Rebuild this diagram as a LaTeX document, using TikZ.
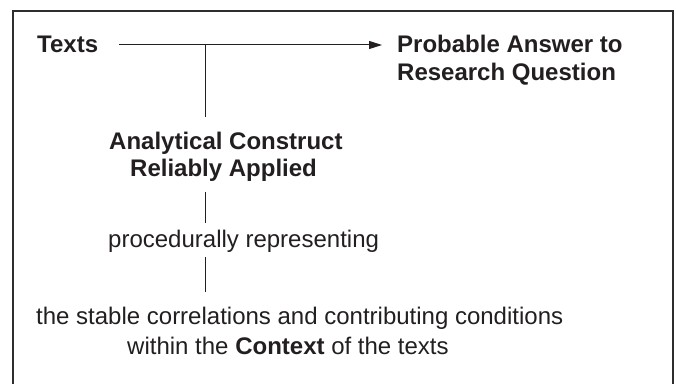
\documentclass[tikz,border=0pt]{standalone}
\usepackage{fontspec}
\setmainfont{Liberation Sans}
\usetikzlibrary{arrows.meta}
\definecolor{ink}{HTML}{231F20}
\definecolor{framec}{HTML}{2E2E2E}
\tikzset{
  lbl/.style={inner sep=0pt, anchor=base west, text=ink, font=\fontsize{24}{28}\selectfont},
  blbl/.style={lbl, font=\fontsize{24}{28}\selectfont\bfseries},
  conn/.style={draw=ink, line width=1pt},
}
\begin{document}
\begin{tikzpicture}[x=1pt,y=1pt]
\useasboundingbox (0,0) rectangle (676,383);
\clip (0,0) rectangle (676,383);
\fill[white] (0,0) rectangle (676,383);
\draw[line width=2.5pt, framec] (13,-10) -- (13,372) -- (673,372) -- (673,-10);

\node[blbl] (texts) at (37,330) {Texts};
\node[blbl] (prob1) at (397,330) {Probable Answer to};
\node[blbl] (prob2) at (397,302) {Research Question};
\node[blbl] (ana1) at (109,233) {Analytical Construct};
\node[blbl] (ana2) at (130,206) {Reliably Applied};
\node[lbl] (proc) at (108,136) {procedurally representing};
\node[lbl] (ctx1) at (36,59) {the stable correlations and contributing conditions};
\node[lbl] (ctx2) at (127,29) {within the \textbf{Context} of the texts};

\coordinate (j) at (205,338);
\coordinate (a0) at (119,338);
\coordinate (a1) at (382,338);
\draw[conn, -{Triangle[length=13pt,width=8pt]}] (a0) -- (a1);
\draw[conn, shorten >=15.5pt] (j) -- (j |- ana1.north);
\draw[conn, shorten <=10pt, shorten >=6.5pt] (ana2.south -| j) -- (proc.north -| j);
\draw[conn, shorten <=5pt, shorten >=14.5pt] (proc.south -| j) -- (ctx1.north -| j);
\end{tikzpicture}
\end{document}
